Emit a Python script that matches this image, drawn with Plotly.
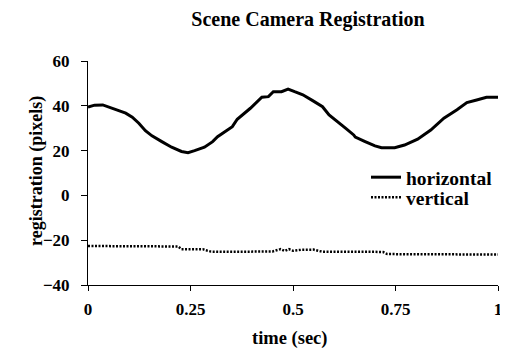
import plotly.graph_objects as go

# horizontal registration (pixels) vs time (sec)
time_h = [0.000, 0.016, 0.036, 0.052, 0.060, 0.076, 0.092, 0.108, 0.124, 0.140,
          0.156, 0.180, 0.204, 0.228, 0.244, 0.260, 0.284, 0.304, 0.316, 0.352,
          0.364, 0.396, 0.424, 0.440, 0.452, 0.472, 0.488, 0.504, 0.524, 0.548,
          0.572, 0.588, 0.620, 0.628, 0.648, 0.652, 0.676, 0.700, 0.716, 0.748,
          0.772, 0.804, 0.836, 0.868, 0.900, 0.924, 0.948, 0.972, 1.000]
horizontal = [39.4, 40.3, 40.4, 39.4, 38.9, 37.7, 36.7, 34.9, 32.2, 28.9,
              26.6, 24.0, 21.5, 19.6, 19.1, 20.0, 21.5, 24.0, 26.2, 30.7,
              34.0, 38.9, 43.8, 44.1, 46.3, 46.3, 47.5, 46.3, 44.9, 42.3,
              39.6, 35.9, 31.5, 30.0, 27.0, 26.0, 24.0, 22.1, 21.3, 21.3,
              22.5, 25.1, 29.2, 34.5, 38.2, 41.4, 42.6, 43.8, 43.8]

# vertical registration
time_v = [0.00, 0.05, 0.10, 0.15, 0.20, 0.22, 0.228, 0.25, 0.28, 0.29,
          0.30, 0.35, 0.40, 0.45, 0.47, 0.48, 0.49, 0.50, 0.52, 0.55,
          0.57, 0.60, 0.65, 0.70, 0.72, 0.73, 0.80, 0.90, 1.00]
vertical = [-22.6, -22.6, -22.6, -22.5, -22.6, -22.8, -24.0, -24.0, -24.0, -24.6,
            -25.1, -25.2, -25.1, -25.0, -24.0, -24.8, -24.0, -24.7, -24.3, -24.2,
            -25.1, -25.2, -25.2, -25.2, -25.3, -26.2, -26.2, -26.3, -26.4]

x_ticks = [0, 0.25, 0.5, 0.75, 1]
x_tick_labels = ["0", "0.25", "0.5", "0.75", "1"]
y_ticks = [-40, -20, 0, 20, 40, 60]

FONT = "Liberation Serif, Times New Roman, serif"

# page offset of the figure (default body margin of the html page)
OFF = 8
W, H = 500, 340
L, R, T, B = 80, 10, 53, 63
PW, PH = W - L - R, H - T - B


def px_x(page_x):
    return (page_x - OFF - L) / PW


def px_y(page_y):
    return 1 - (page_y - OFF - T) / PH


fig = go.Figure()
fig.add_trace(go.Scatter(x=time_h, y=horizontal, mode="lines", name="horizontal",
                         line=dict(color="black", width=3), legend="legend"))
fig.add_trace(go.Scatter(x=time_v, y=vertical, mode="lines", name="vertical",
                         line=dict(color="black", width=2.5, dash="2px,1.5px"),
                         legend="legend2"))

legend_common = dict(xanchor="left", yanchor="top", bgcolor="rgba(0,0,0,0)",
                     font=dict(family=FONT, size=19.5, color="black", weight="bold"),
                     itemwidth=30)

fig.update_layout(
    width=W, height=H,
    margin=dict(l=L, r=R, t=T, b=B),
    paper_bgcolor="white", plot_bgcolor="white",
    font=dict(family=FONT, size=17, color="black", weight="bold"),
    title=dict(text="Scene Camera Registration", x=(308 - OFF) / W, xanchor="center",
               y=1 - 4 / H, yanchor="top", xref="container", yref="container",
               pad=dict(t=0, b=0),
               font=dict(family=FONT, size=20, color="black", weight="bold")),
    showlegend=True,
    legend=dict(x=px_x(366), y=px_y(158), **legend_common),
    legend2=dict(x=px_x(366), y=px_y(178), **legend_common),
    xaxis=dict(range=[0, 1], tickvals=x_ticks, ticktext=x_tick_labels,
               showgrid=False, zeroline=False, showline=True, linecolor="black", linewidth=1,
               ticks="outside", ticklen=5, tickcolor="black", tickwidth=1,
               ticklabelstandoff=4, ticklabeloverflow="allow", automargin=False),
    yaxis=dict(range=[-40, 60], tickvals=y_ticks,
               showgrid=False, zeroline=False, showline=True, linecolor="black", linewidth=1,
               ticks="outside", ticklen=6, tickcolor="black", tickwidth=1,
               ticklabelstandoff=8, automargin=False),
    annotations=[
        dict(text="registration (pixels)", xref="paper", yref="paper",
             x=px_x(36), y=px_y(171), textangle=-90, showarrow=False,
             xanchor="center", yanchor="middle",
             font=dict(family=FONT, size=18, color="black", weight="bold")),
        dict(text="time (sec)", xref="paper", yref="paper",
             x=px_x(290), y=px_y(338), showarrow=False,
             xanchor="center", yanchor="middle",
             font=dict(family=FONT, size=18.5, color="black", weight="bold")),
    ],
)

fig.write_html("out.html")
